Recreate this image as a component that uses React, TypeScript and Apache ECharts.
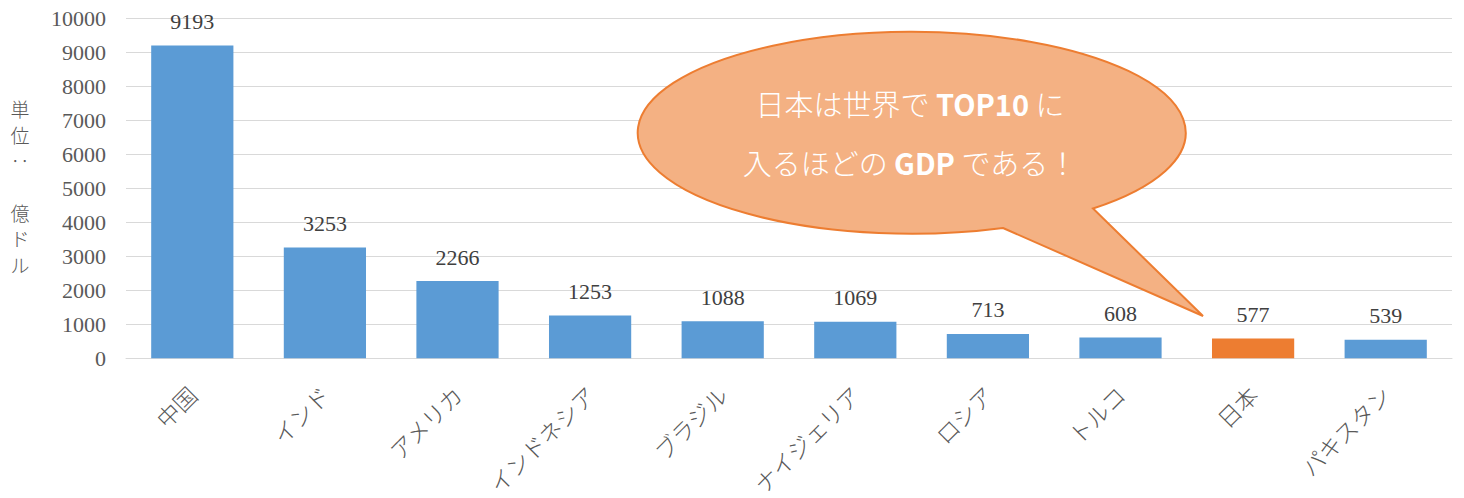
import React, { useEffect, useRef } from "react";
import * as echarts from "echarts";

const categories = ["中国", "インド", "アメリカ", "インドネシア", "ブラジル", "ナイジェリア", "ロシア", "トルコ", "日本", "パキスタン"];
const values = [9193, 3253, 2266, 1253, 1088, 1069, 713, 608, 577, 539];
const highlight = "日本";
const yTicks = { min: 0, max: 10000, interval: 1000 };
const yAxisName = "単\n位\n‥\n\n億\nド\nル";
const calloutLine1 = ["日本は世界で ", "TOP10", " に"];
const calloutLine2 = ["入るほどの ", "GDP", " である！"];

const calloutPath =
  "M1003 228 L1203 316 L1093 208.5 A274 101 0 1 0 1003 228 Z";
echarts.graphic.registerShape("callout", echarts.graphic.extendPath(calloutPath, {}));

export default function App() {
  const ref = useRef<HTMLDivElement>(null);
  useEffect(() => {
    if (!ref.current) return;
    const chart = echarts.init(ref.current, null, { renderer: "svg" });
    const jp = "'Noto Sans CJK JP', sans-serif";
    chart.setOption({
      animation: false,
      backgroundColor: "#ffffff",
      grid: { left: 126, right: 12, top: 18, bottom: 139, containLabel: false },
      xAxis: {
        type: "category",
        data: categories,
        axisLine: { lineStyle: { color: "#d9d9d9", width: 1 } },
        axisTick: { show: false },
        axisLabel: {
          rotate: 45,
          interval: 0,
          margin: 32,
          fontSize: 23,
          color: "#595959",
          fontFamily: jp,
          fontWeight: 300,
        },
      },
      yAxis: {
        type: "value",
        min: yTicks.min,
        max: yTicks.max,
        interval: yTicks.interval,
        axisLine: { show: false },
        axisTick: { show: false },
        splitLine: { lineStyle: { color: "#d9d9d9", width: 1 } },
        axisLabel: {
          margin: 20,
          fontSize: 22,
          color: "#595959",
          fontFamily: "'Liberation Serif', serif",
          formatter: (v: number) => String(v),
        },
      },
      series: [
        {
          type: "bar",
          barWidth: "62%",
          data: values.map((v, i) => ({
            value: v,
            itemStyle: { color: categories[i] === highlight ? "#ED7D31" : "#5B9BD5" },
          })),
          label: {
            show: true,
            position: "top",
            distance: 13,
            fontSize: 22,
            color: "#404040",
            fontFamily: "'Liberation Serif', serif",
          },
        },
      ],
      graphic: [
        {
          type: "text",
          x: 20,
          y: 186,
          style: {
            text: yAxisName,
            fill: "#595959",
            font: `300 19px ${jp}`,
            lineHeight: 26,
            align: "center",
            verticalAlign: "middle",
          },
        },
        {
          type: "callout",
          x: 0,
          y: 0,
          z: 100,
          style: { fill: "#F4B183", stroke: "#ED7D31", lineWidth: 2 },
        },
        ...[calloutLine1, calloutLine2].map((parts, i) => ({
          type: "text",
          x: 910,
          y: i === 0 ? 103 : 162,
          z: 101,
          style: {
            text: `{n|${parts[0]}}{b|${parts[1]}}{n|${parts[2]}}`,
            align: "center",
            verticalAlign: "middle",
            rich: {
              n: { fontSize: 29, fontFamily: jp, fontWeight: 300, fill: "#ffffff", color: "#ffffff" },
              b: { fontSize: 29, fontFamily: jp, fontWeight: "bold", fill: "#ffffff", color: "#ffffff" },
            },
          },
        })),
      ],
    });
    return () => chart.dispose();
  }, []);
  return (
    <div
      ref={ref}
      style={{ position: "fixed", left: 0, top: 0, width: 1464, height: 498, background: "#fff" }}
    />
  );
}
